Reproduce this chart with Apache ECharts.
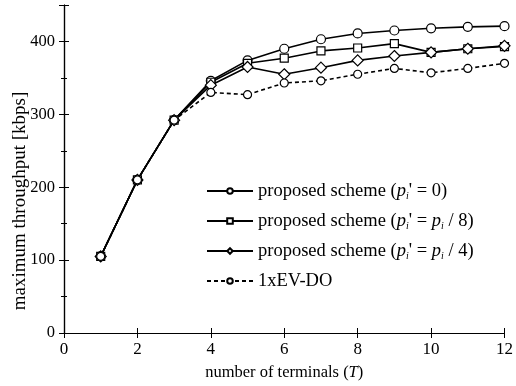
<!DOCTYPE html>
<html>
<head>
<meta charset="utf-8">
<script src="https://cdn.jsdelivr.net/npm/echarts@6/dist/echarts.min.js"></script>
<style>
    html, body { margin: 0; padding: 0; background: #fff; }
    #main { width: 516px; height: 386px; }
</style>
</head>
<body>
<div id="main"></div>
<script>
// number of terminals
var terminals = [1, 2, 3, 4, 5, 6, 7, 8, 9, 10, 11, 12];
// maximum throughput [kbps]
var scheme0 = [105, 210, 292, 346, 374, 390, 403, 411, 415, 418, 420, 421];
var scheme8 = [105, 210, 292, 344, 370, 377, 387, 391, 397, 385, 390, 393];
var scheme4 = [105, 210, 292, 340, 365, 355, 364, 374, 380, 385, 390, 394];
var evdo = [105, 210, 292, 330, 327, 343, 346, 355, 363, 357, 363, 370];
var seriesNames = ['s0', 's8', 's4', 'evdo'];

var serif = 'Liberation Serif';

function pairs(values) {
    var out = [];
    for (var i = 0; i < terminals.length; i++) {
        out.push([terminals[i], values[i]]);
    }
    return out;
}

function makeSeries(name, values, symbol, size, dashed) {
    return {
        name: name,
        type: 'line',
        data: pairs(values),
        symbol: symbol,
        symbolSize: size,
        showAllSymbol: true,
        lineStyle: { color: '#000', width: 1.6, type: dashed ? [4, 3] : 'solid' },
        itemStyle: { color: '#fff', borderColor: '#000', borderWidth: 1.2 },
        emphasis: { disabled: true },
        animation: false
    };
}

var legendText = {
    s0: 'proposed scheme ({it|p}{sub|i}\' = 0)',
    s8: 'proposed scheme ({it|p}{sub|i}\' = {it|p}{sub|i} / 8)',
    s4: 'proposed scheme ({it|p}{sub|i}\' = {it|p}{sub|i} / 4)',
    evdo: '1xEV-DO'
};

var tickStyle = { inside: true, length: 5, lineStyle: { color: '#000', width: 1 } };
var minorStyle = { show: true, splitNumber: 2, length: 3, lineStyle: { color: '#000', width: 1 } };
var axisLine = { show: true, lineStyle: { color: '#000', width: 1.2 } };

var option = {
    backgroundColor: '#fff',
    grid: { left: 64, right: 8, top: 5, bottom: 52 },
    graphic: [{
        type: 'text',
        x: 20,
        y: 201,
        rotation: Math.PI / 2,
        style: {
            text: 'maximum throughput [kbps]',
            fontFamily: serif,
            fontSize: 19,
            fill: '#000',
            align: 'center',
            verticalAlign: 'middle'
        }
    }],
    legend: {
        orient: 'vertical',
        left: 201,
        top: 176,
        itemWidth: 46,
        itemHeight: 7,
        itemGap: 10,
        data: seriesNames,
        formatter: function (name) { return legendText[name]; },
        textStyle: {
            fontFamily: serif,
            fontSize: 18.5,
            lineHeight: 20,
            color: '#000',
            rich: {
                it: { fontFamily: serif, fontSize: 18.5, lineHeight: 20, fontStyle: 'italic', color: '#000' },
                sub: { fontFamily: serif, fontSize: 10, lineHeight: 20, fontStyle: 'italic', color: '#000', verticalAlign: 'bottom' }
            }
        }
    },
    xAxis: [{
        type: 'value',
        min: 0, max: 12, interval: 2,
        name: 'number of terminals ({it|T})',
        nameLocation: 'middle',
        nameGap: 31,
        nameTextStyle: {
            fontFamily: serif, fontSize: 16.5, color: '#000',
            rich: { it: { fontFamily: serif, fontSize: 16.5, fontStyle: 'italic', color: '#000' } }
        },
        axisLine: axisLine,
        axisTick: tickStyle,
        axisLabel: { fontFamily: serif, fontSize: 17, color: '#000', margin: 8 },
        splitLine: { show: false }
    }, {
        type: 'value',
        position: 'top',
        min: 0, max: 12, interval: 2,
        axisLine: axisLine,
        axisTick: tickStyle,
        axisLabel: { show: false },
        splitLine: { show: false }
    }],
    yAxis: [{
        type: 'value',
        min: 0, max: 450, interval: 100,
        axisLine: axisLine,
        axisTick: tickStyle,
        minorTick: minorStyle,
        axisLabel: { fontFamily: serif, fontSize: 16.5, color: '#000', margin: 9, showMaxLabel: false },
        splitLine: { show: false }
    }, {
        type: 'value',
        position: 'right',
        min: 0, max: 450, interval: 100,
        axisLine: axisLine,
        axisTick: tickStyle,
        minorTick: minorStyle,
        axisLabel: { show: false },
        splitLine: { show: false }
    }],
    series: [
        makeSeries('s0', scheme0, 'circle', 9, false),
        makeSeries('s8', scheme8, 'rect', 8, false),
        makeSeries('s4', scheme4, 'diamond', 11, false),
        makeSeries('evdo', evdo, 'circle', 8, true)
    ]
};

var myChart = echarts.init(document.getElementById('main'), null, { renderer: 'canvas' });
myChart.setOption(option, true);
</script>
</body>
</html>
